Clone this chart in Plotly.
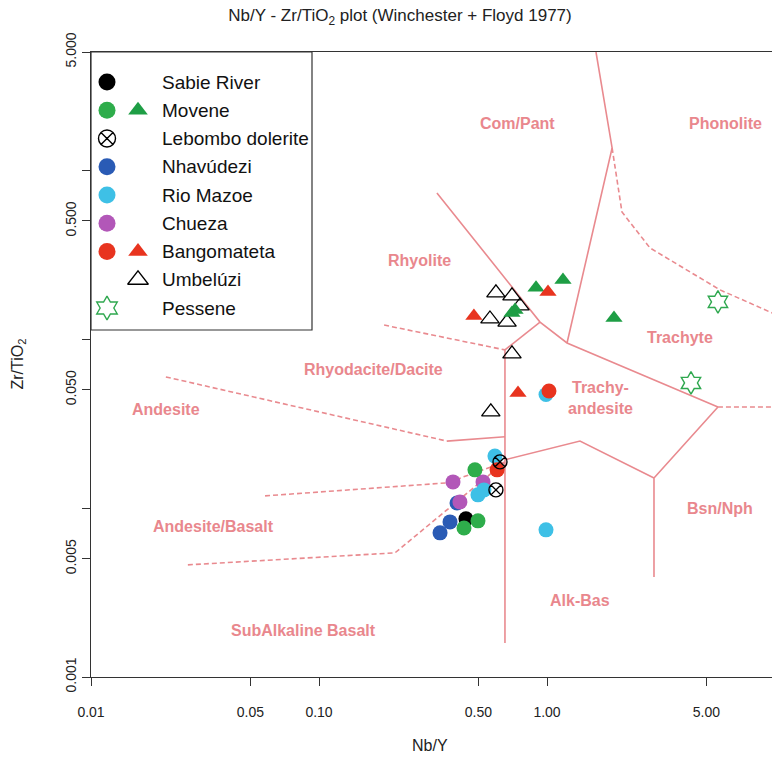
import math
import plotly.graph_objects as go

# ---------------------------------------------------------------------------
# Sample data: Nb/Y (x) and Zr/TiO2 (y) for each suite
# ---------------------------------------------------------------------------
sabie_x = [0.441]
sabie_y = [0.00863]

movene_circ_x = [0.483, 0.4325, 0.498]
movene_circ_y = [0.01683, 0.00762, 0.0084]
movene_tri_x = [0.895, 1.175, 1.967, 0.724, 0.702]
movene_tri_y = [0.201, 0.224, 0.1334, 0.1486, 0.1428]

lebombo_x = [0.597, 0.622]
lebombo_y = [0.0128, 0.01875]

nhavudezi_x = [0.3395, 0.3755, 0.403]
nhavudezi_y = [0.00713, 0.00828, 0.0107]

mazoe_x = [0.990, 0.591, 0.498, 0.990, 0.529]
mazoe_y = [0.00743, 0.0203, 0.01197, 0.047, 0.0128]

chueza_x = [0.387, 0.524, 0.415]
chueza_y = [0.01428, 0.01428, 0.01087]

bango_circ_x = [1.02, 0.604]
bango_circ_y = [0.0493, 0.01683]
bango_tri_x = [0.478, 1.01, 0.746]
bango_tri_y = [0.137, 0.190, 0.048]

umbeluzi_x = [0.597, 0.702, 0.761, 0.562, 0.668, 0.702, 0.567]
umbeluzi_y = [0.1875, 0.180, 0.157, 0.1315, 0.126, 0.0817, 0.0371]

pessene_x = [5.62, 4.28]
pessene_y = [0.166, 0.055]

# ---------------------------------------------------------------------------
# Winchester & Floyd (1977) field boundaries (Nb/Y, Zr/TiO2 vertices)
# ---------------------------------------------------------------------------
solid_boundaries = [
    ([1.64, 1.93, 1.224], [5.0, 1.352, 0.0948]),
    ([0.329, 0.932, 1.224, 5.62], [0.733, 0.126, 0.0948, 0.0396]),
    ([5.62, 2.946, 2.946], [0.0396, 0.01507, 0.00391]),
    ([0.654, 1.395, 2.946], [0.0193, 0.0249, 0.01507]),
    ([0.654, 0.654], [0.0863, 0.00159]),
    ([0.654, 0.932], [0.0863, 0.126]),
    ([0.364, 0.654], [0.0249, 0.0264]),
]
dashed_boundaries = [
    ([5.62, 10.0], [0.0396, 0.0396]),
    ([1.93, 2.132, 2.83, 5.74, 9.7], [1.352, 0.565, 0.346, 0.1955, 0.1428]),
    ([0.0213, 0.364], [0.0597, 0.0249]),
    ([0.193, 0.654], [0.121, 0.0863]),
    ([0.058, 0.364, 0.654], [0.0118, 0.01409, 0.01875]),
    ([0.0266, 0.2154, 0.654], [0.00461, 0.00543, 0.01875]),
]

field_names = ["Com/Pant", "Phonolite", "Rhyolite", "Trachyte", "Rhyodacite/Dacite",
               "Trachy-<br>andesite", "Andesite", "Andesite/Basalt", "Bsn/Nph",
               "Alk-Bas", "SubAlkaline Basalt"]
field_x = [0.746, 6.04, 0.277, 3.83, 0.174, 1.708, 0.0213, 0.0346, 5.74, 1.395, 0.0851]
field_y = [1.875, 1.875, 0.29, 0.1016, 0.0665, 0.0449, 0.0381, 0.00773, 0.00989, 0.00282, 0.001875]

# Axis ticks
x_tickvals = [0.01, 0.05, 0.1, 0.5, 1, 5]
x_ticktext = ["0.01", "0.05", "0.10", "0.50", "1.00", "5.00"]
y_tickvals = [0.001, 0.005, 0.01, 0.05, 0.1, 0.5, 1, 5]
y_ticktext = ["0.001", "0.005", "", "0.050", "", "0.500", "", "5.000"]

# Legend entries
legend_names = ["Sabie River", "Movene", "Lebombo dolerite", "Nhavúdezi", "Rio Mazoe",
                "Chueza", "Bangomateta", "Umbelúzi", "Pessene"]

# ---------------------------------------------------------------------------
FONT = "Liberation Sans, Arial, sans-serif"
FIELD_COLOR = "#E9878D"
LINE_COLOR = "#E98A8F"

C_BLACK = "#000000"
C_GREEN = "#2EAD4B"
C_GREEN_TRI = "#1E9E45"
C_BLUE = "#2A5BB5"
C_CYAN = "#3EC0E6"
C_MAGENTA = "#B257B8"
C_RED = "#E8341F"
C_PESSENE = "#2FA84F"

W, H = 772, 761
L, R, T, B = 91, 0, 52, 84
plot_w = W - L - R
plot_h = H - T - B

fig = go.Figure()

for xs, ys in solid_boundaries:
    fig.add_trace(go.Scatter(x=xs, y=ys, mode="lines", showlegend=False, hoverinfo="skip",
                             line=dict(color=LINE_COLOR, width=1.6)))
for xs, ys in dashed_boundaries:
    fig.add_trace(go.Scatter(x=xs, y=ys, mode="lines", showlegend=False, hoverinfo="skip",
                             line=dict(color=LINE_COLOR, width=1.6, dash="5px,3px")))


def pts(xs, ys, symbol, color, size, line_color=None, line_width=0):
    fig.add_trace(go.Scatter(
        x=xs, y=ys, mode="markers", showlegend=False,
        marker=dict(symbol=symbol, color=color, size=size,
                    line=dict(color=line_color or color, width=line_width))))


CIRC = 15
TRI = 15
pts(nhavudezi_x, nhavudezi_y, "circle", C_BLUE, CIRC)
pts(chueza_x, chueza_y, "circle", C_MAGENTA, CIRC)
pts(sabie_x, sabie_y, "circle", C_BLACK, CIRC)
pts(movene_circ_x, movene_circ_y, "circle", C_GREEN, CIRC)
pts(mazoe_x, mazoe_y, "circle", C_CYAN, CIRC)
pts(bango_circ_x, bango_circ_y, "circle", C_RED, CIRC)
pts(lebombo_x, lebombo_y, "circle-x-open", C_BLACK, CIRC - 1, C_BLACK, 1.4)
pts(umbeluzi_x, umbeluzi_y, "triangle-up-open", C_BLACK, TRI + 1, C_BLACK, 1.3)
pts(movene_tri_x, movene_tri_y, "triangle-up", C_GREEN_TRI, TRI)
pts(bango_tri_x, bango_tri_y, "triangle-up", C_RED, TRI)
pts(pessene_x, pessene_y, "hexagram-open", C_PESSENE, 17, C_PESSENE, 1.4)

# Field names (annotation positions on log axes are given as log10 values)
for name, fx, fy in zip(field_names, field_x, field_y):
    fig.add_annotation(x=math.log10(fx), y=math.log10(fy), xref="x", yref="y", text=name,
                       showarrow=False,
                       font=dict(family=FONT, size=16, color=FIELD_COLOR, weight="bold"),
                       align="center", yanchor="middle", xanchor="center")

# ---------------------------------------------------------------------------
# Legend drawn in an inset panel (x in pixels from left, y in row units)
# ---------------------------------------------------------------------------
leg_left, leg_right, leg_top, leg_bottom = 91, 312, 52, 330
row0, row_step = 82, 28.25
leg_dom_x = [(leg_left - L) / plot_w, (leg_right - L) / plot_w]
leg_dom_y = [(H - B - leg_bottom) / plot_h, (H - B - leg_top) / plot_h]
rows = list(range(len(legend_names)))
col_circle, col_tri, col_text = 107, 138, 160


def leg(xs, ys, symbol, color, size, line_color=None, line_width=0):
    fig.add_trace(go.Scatter(
        x=xs, y=ys, mode="markers", showlegend=False, xaxis="x2", yaxis="y2", hoverinfo="skip",
        marker=dict(symbol=symbol, color=color, size=size,
                    line=dict(color=line_color or color, width=line_width))))


leg([col_circle], [rows[0]], "circle", C_BLACK, 17)
leg([col_circle], [rows[1]], "circle", C_GREEN, 17)
leg([col_tri], [rows[1]], "triangle-up", C_GREEN_TRI, 17)
leg([col_circle], [rows[2]], "circle-x-open", C_BLACK, 17, C_BLACK, 1.4)
leg([col_circle], [rows[3]], "circle", C_BLUE, 17)
leg([col_circle], [rows[4]], "circle", C_CYAN, 17)
leg([col_circle], [rows[5]], "circle", C_MAGENTA, 17)
leg([col_circle], [rows[6]], "circle", C_RED, 17)
leg([col_tri], [rows[6]], "triangle-up", C_RED, 17)
leg([col_tri], [rows[7]], "triangle-up-open", C_BLACK, 18, C_BLACK, 1.3)
leg([col_circle], [rows[8]], "hexagram-open", C_PESSENE, 18, C_PESSENE, 1.4)

for r, name in zip(rows, legend_names):
    fig.add_annotation(x=col_text, y=r, xref="x2", yref="y2", text=name, showarrow=False,
                       xanchor="left", yanchor="middle",
                       font=dict(family=FONT, size=19, color="#111111"))

fig.add_shape(type="rect", xref="paper", yref="paper",
              x0=leg_dom_x[0], x1=leg_dom_x[1], y0=leg_dom_y[0], y1=leg_dom_y[1],
              line=dict(color="#333333", width=1.2), fillcolor="white", layer="below")

# ---------------------------------------------------------------------------
axis_font = dict(family=FONT, size=14, color="#222222")
fig.update_layout(
    width=W, height=H,
    margin=dict(l=L, r=R, t=T, b=B),
    paper_bgcolor="white", plot_bgcolor="rgba(0,0,0,0)",
    showlegend=False,
    title=dict(text="Nb/Y - Zr/TiO<sub>2</sub> plot (Winchester + Floyd 1977)",
               x=(400 - L) / plot_w, xref="paper", y=1 - 15 / H, yref="container",
               xanchor="center", yanchor="middle",
               font=dict(family=FONT, size=17, color="#222222")),
    xaxis=dict(type="log", range=[-2, 0.9868], tickvals=x_tickvals, ticktext=x_ticktext,
               ticks="outside", ticklen=8, tickcolor="#333333", tickfont=axis_font,
               ticklabelstandoff=14,
               showline=True, linecolor="#333333", linewidth=1.3, mirror=True,
               showgrid=False, zeroline=False),
    yaxis=dict(type="log", range=[-3, 0.69897], tickvals=y_tickvals, ticktext=y_ticktext,
               ticks="outside", ticklen=8, tickcolor="#333333", tickfont=axis_font,
               tickangle=-90, showline=True, linecolor="#333333", linewidth=1.3,
               showgrid=False, zeroline=False),
    xaxis2=dict(domain=leg_dom_x, range=[leg_left, leg_right], anchor="y2", visible=False,
                fixedrange=True),
    yaxis2=dict(domain=leg_dom_y,
                range=[(leg_bottom - row0) / row_step, (leg_top - row0) / row_step],
                anchor="x2", visible=False, fixedrange=True),
)

fig.add_annotation(text="Nb/Y", xref="paper", yref="paper", x=(430 - L) / plot_w,
                   y=(H - B - 745) / plot_h,
                   showarrow=False, yanchor="middle", xanchor="center",
                   font=dict(family=FONT, size=16, color="#222222"))
fig.add_annotation(text="Zr/TiO<sub>2</sub>", xref="paper", yref="paper",
                   x=(18 - L) / plot_w, y=0.5, textangle=-90, showarrow=False,
                   xanchor="center", yanchor="middle",
                   font=dict(family=FONT, size=16, color="#222222"))

fig.write_html("out.html")
